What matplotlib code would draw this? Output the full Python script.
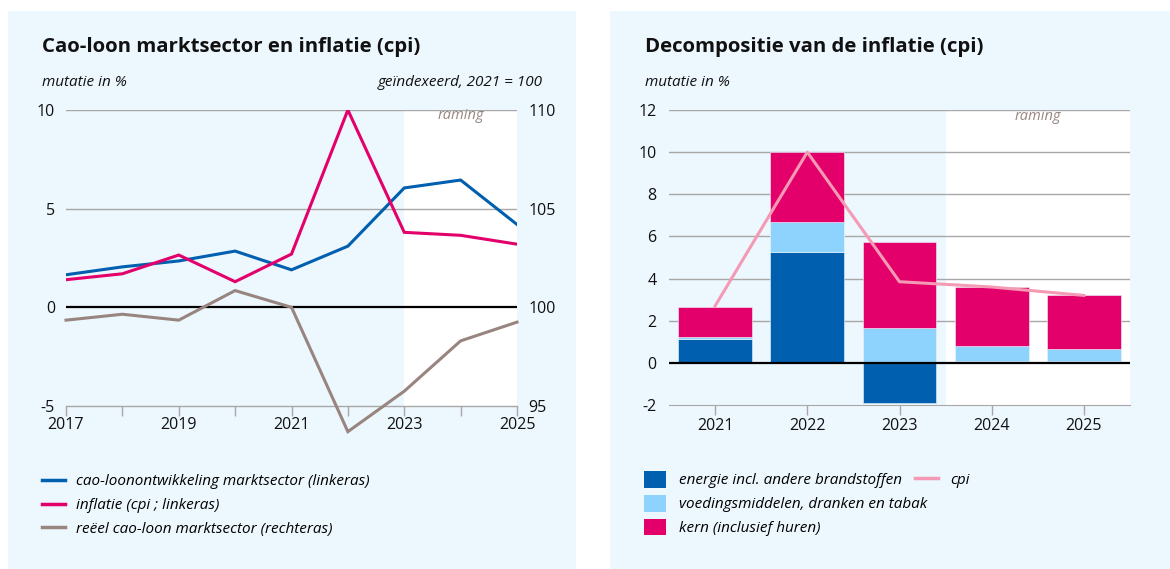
import matplotlib
matplotlib.use("Agg")
import matplotlib.pyplot as plt
from matplotlib.patches import Rectangle
from matplotlib.lines import Line2D
from matplotlib.patches import Patch

plt.rcParams['font.family'] = ['Open Sans', 'DejaVu Sans']
plt.rcParams['axes.unicode_minus'] = False

# ---------------- data ----------------
years_left = [2017, 2018, 2019, 2020, 2021, 2022, 2023, 2024, 2025]
cao_loon = [1.65, 2.05, 2.35, 2.85, 1.9, 3.1, 6.05, 6.45, 4.2]
inflatie = [1.4, 1.7, 2.65, 1.3, 2.7, 10.0, 3.8, 3.65, 3.2]
reeel = [99.35, 99.65, 99.35, 100.85, 100.0, 93.7, 95.75, 98.3, 99.25]
left_xticklabels = ['2017', '', '2019', '', '2021', '', '2023', '', '2025']

years_right = [2021, 2022, 2023, 2024, 2025]
energie = [1.15, 5.25, -1.9, 0.1, 0.08]
voeding = [0.1, 1.43, 1.65, 0.72, 0.57]
kern = [1.4, 3.32, 4.08, 2.77, 2.55]
cpi = [2.7, 10.0, 3.85, 3.6, 3.2]

# ---------------- style ----------------
W, H = 1170, 569
BG = '#EDF7FE'
BLUE = '#005FAE'
PINK = '#E3006B'
BROWN = '#988580'
LIGHTBLUE = '#8ED3FE'
CPI = '#F49AB4'
GRID = '#A8A8A8'
TXT = '#111111'

fig = plt.figure(figsize=(W / 100, H / 100), dpi=100)
fig.patch.set_facecolor('white')

def fx(px):
    return px / W

def fy(py):
    return 1 - py / H

# panels
fig.patches.append(Rectangle((fx(8), 0), fx(576 - 8), fy(11), transform=fig.transFigure,
                             facecolor=BG, edgecolor='none', zorder=-10))
fig.patches.append(Rectangle((fx(610), 0), fx(1170 - 610), fy(11), transform=fig.transFigure,
                             facecolor=BG, edgecolor='none', zorder=-10))

# ---------------- left chart ----------------
axL = fig.add_axes([fx(66), fy(406), fx(517 - 66), (406 - 110) / H])
axL.set_facecolor('none')
axL.set_xlim(2017, 2025)
axL.set_ylim(-5, 10)
axL.axvspan(2023, 2025, color='white', zorder=0, lw=0)
axL.set_yticks([-5, 0, 5, 10])
axL.set_yticklabels(['-5', '0', '5', '10'])
for yv in [5, 10]:
    axL.axhline(yv, color=GRID, lw=1.0, zorder=1)
axL.axhline(0, color='black', lw=1.6, zorder=2)
for s in ['top', 'right', 'left']:
    axL.spines[s].set_visible(False)
axL.spines['bottom'].set_color(GRID)
axL.spines['bottom'].set_linewidth(1.0)
axL.set_xticks(years_left)
axL.set_xticklabels(left_xticklabels)
axL.tick_params(axis='x', length=7, color=GRID, width=1, pad=1, labelsize=11.5, labelcolor=TXT)
axL.tick_params(axis='y', length=0, pad=8, labelsize=11.5, labelcolor=TXT)

axL.plot(years_left, cao_loon, color=BLUE, lw=2.2, zorder=4, solid_joinstyle='miter')
axL.plot(years_left, inflatie, color=PINK, lw=2.2, zorder=4, solid_joinstyle='miter')

axR2 = axL.twinx()
axR2.set_ylim(95, 110)
axR2.set_yticks([95, 100, 105, 110])
for s in ['top', 'right', 'left', 'bottom']:
    axR2.spines[s].set_visible(False)
axR2.tick_params(axis='y', length=0, pad=8, labelsize=11.5, labelcolor=TXT)
axR2.plot(years_left, reeel, color=BROWN, lw=2.2, zorder=3, clip_on=False, solid_joinstyle='miter')

axL.text(2024.0, 9.7, 'raming', ha='center', va='center', color=BROWN, style='italic',
         fontsize=10.5, zorder=5)

fig.text(fx(42), fy(47), 'Cao-loon marktsector en inflatie (cpi)', fontsize=14.7, fontweight='bold',
         va='center', ha='left', color=TXT)
fig.text(fx(42), fy(83), 'mutatie in %', fontsize=11, style='italic', va='center', ha='left', color=TXT)
fig.text(fx(543), fy(83), 'geïndexeerd, 2021 = 100', fontsize=11, style='italic', va='center',
         ha='right', color=TXT)

handlesL = [Line2D([], [], color=BLUE, lw=2.5),
            Line2D([], [], color=PINK, lw=2.5),
            Line2D([], [], color=BROWN, lw=2.5)]
labelsL = ['cao-loonontwikkeling marktsector (linkeras)', 'inflatie (cpi ; linkeras)',
           'reëel cao-loon marktsector (rechteras)']
fig.legend(handlesL, labelsL, loc='upper left', bbox_to_anchor=(fx(42), fy(474)),
           frameon=False, handlelength=1.5, handletextpad=0.72, labelspacing=0.58,
           borderpad=0, borderaxespad=0, prop={'size': 11, 'style': 'italic'})

# ---------------- right chart ----------------
axB = fig.add_axes([fx(669), fy(405), fx(1130 - 669), (405 - 110) / H])
axB.set_facecolor('none')
axB.set_xlim(2020.5, 2025.5)
axB.set_ylim(-2, 12)
axB.axvspan(2023.5, 2025.5, color='white', zorder=0, lw=0)
axB.set_yticks(range(-2, 13, 2))
for yv in range(2, 13, 2):
    axB.axhline(yv, color=GRID, lw=1.0, zorder=1)
for s in ['top', 'right', 'left']:
    axB.spines[s].set_visible(False)
axB.spines['bottom'].set_color(GRID)
axB.set_xticks(years_right)
axB.tick_params(axis='x', length=7, color=GRID, width=1, pad=2, labelsize=11.5, labelcolor=TXT)
axB.tick_params(axis='y', length=0, pad=9, labelsize=11.5, labelcolor=TXT)

bw = 0.8
pos_base = [max(e, 0) for e in energie]
axB.bar(years_right, energie, width=bw, color=BLUE, zorder=2, edgecolor=BG, lw=0.4)
axB.bar(years_right, voeding, width=bw, bottom=pos_base, color=LIGHTBLUE, zorder=2,
        edgecolor=BG, lw=0.4)
kern_base = [p + v for p, v in zip(pos_base, voeding)]
axB.bar(years_right, kern, width=bw, bottom=kern_base, color=PINK, zorder=2, edgecolor=BG, lw=0.4)
axB.axhline(0, color='black', lw=1.6, zorder=3)
axB.plot(years_right, cpi, color=CPI, lw=2.2, zorder=4)

axB.text(2024.5, 11.7, 'raming', ha='center', va='center', color=BROWN, style='italic',
         fontsize=10.5, zorder=5)

fig.text(fx(645), fy(47), 'Decompositie van de inflatie (cpi)', fontsize=14.7, fontweight='bold',
         va='center', ha='left', color=TXT)
fig.text(fx(645), fy(83), 'mutatie in %', fontsize=11, style='italic', va='center', ha='left', color=TXT)

handlesB = [Patch(facecolor=BLUE), Patch(facecolor=LIGHTBLUE), Patch(facecolor=PINK)]
labelsB = ['energie incl. andere brandstoffen', 'voedingsmiddelen, dranken en tabak',
           'kern (inclusief huren)']
fig.legend(handlesB, labelsB, loc='upper left', bbox_to_anchor=(fx(644), fy(471)),
           frameon=False, handlelength=1.45, handleheight=1.3, handletextpad=0.85,
           labelspacing=0.42, borderpad=0, borderaxespad=0, prop={'size': 11, 'style': 'italic'})
fig.legend([Line2D([], [], color=CPI, lw=2.5)], ['cpi'], loc='upper left',
           bbox_to_anchor=(fx(915), fy(471)), frameon=False, handlelength=1.5, handleheight=1.3,
           handletextpad=0.8, borderpad=0, borderaxespad=0, prop={'size': 11, 'style': 'italic'})

fig.savefig('out.png', dpi=100, facecolor='white')
